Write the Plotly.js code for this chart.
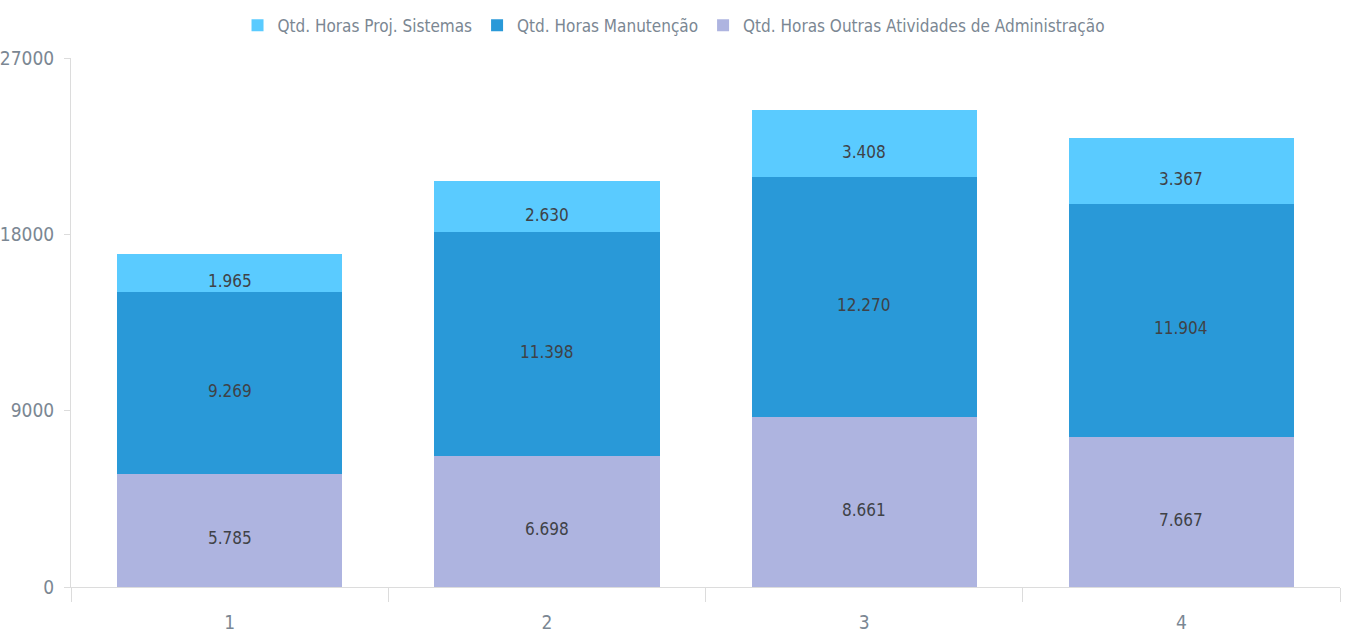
<!DOCTYPE html>
<html>
<head>
<meta charset="utf-8">
<script src="https://cdn.plot.ly/plotly-3.0.1.min.js"></script>
<style>html,body{margin:0;padding:0;background:#fff;}#chart{width:1351px;height:634px;}</style>
</head>
<body>
<div id="chart"></div>
<script>
const categories = ['1', '2', '3', '4'];
const outrasAtividades = [5785, 6698, 8661, 7667];
const manutencao = [9269, 11398, 12270, 11904];
const projSistemas = [1965, 2630, 3408, 3367];
const seriesNames = ['Qtd. Horas Outras Atividades de Administração', 'Qtd. Horas Manutenção', 'Qtd. Horas Proj. Sistemas'];
const yTicks = [0, 9000, 18000, 27000];

const FONT = 'DejaVu Sans Condensed, Liberation Sans Narrow, sans-serif';
const colors = ['#AEB4E0', '#2999D8', '#5ACBFF'];
const series = [outrasAtividades, manutencao, projSistemas];

const traces = series.map((vals, i) => ({
  type: 'bar',
  name: seriesNames[i],
  x: categories,
  y: vals,
  marker: {color: colors[i], line: {width: 0}},
  hovertemplate: '%{x}: %{y:,}<extra>' + seriesNames[i] + '</extra>'
}));

// value labels, placed at the middle of each stacked segment
// (x given as category index, since category names look numeric)
const fmt = v => String(v).replace(/\B(?=(\d{3})+(?!\d))/g, '.');
const annotations = [];
categories.forEach((c, j) => {
  let base = 0;
  series.forEach(vals => {
    annotations.push({
      x: j, y: base + vals[j] / 2, xref: 'x', yref: 'y',
      text: fmt(vals[j]), showarrow: false, yshift: -8,
      font: {family: FONT, size: 17, color: '#3f4247'}
    });
    base += vals[j];
  });
});

const layout = {
  width: 1351,
  height: 634,
  separators: ',.',
  barmode: 'stack',
  bargap: 0.29,
  margin: {l: 71, r: 11, t: 58, b: 47, autoexpand: false},
  paper_bgcolor: '#fff',
  plot_bgcolor: '#fff',
  font: {family: FONT, color: '#7b8793', size: 18},
  showlegend: true,
  annotations: annotations,
  legend: {
    orientation: 'h',
    x: 0.4748, xanchor: 'center',
    y: 1.095, yanchor: 'top',
    traceorder: 'reversed',
    font: {family: FONT, size: 17, color: '#7b8793'},
    itemclick: false
  },
  xaxis: {
    type: 'category',
    categoryorder: 'array',
    categoryarray: categories,
    showgrid: false,
    showline: true,
    linecolor: '#dcdcdc',
    linewidth: 1,
    ticks: 'outside',
    tickson: 'boundaries',
    ticklen: 14,
    tickcolor: '#dcdcdc',
    ticklabelstandoff: 18,
    tickfont: {family: FONT, size: 19, color: '#7b8793'},
    zeroline: false
  },
  yaxis: {
    range: [0, 27000],
    tickvals: yTicks,
    tickformat: 'd',
    showgrid: false,
    zeroline: false,
    showline: true,
    linecolor: '#dcdcdc',
    linewidth: 1,
    ticks: 'outside',
    ticklen: 6,
    tickcolor: '#dcdcdc',
    ticklabelstandoff: 6,
    tickfont: {family: FONT, size: 19, color: '#7b8793'}
  }
};

Plotly.newPlot('chart', traces, layout, {displayModeBar: false});
</script>
</body>
</html>
